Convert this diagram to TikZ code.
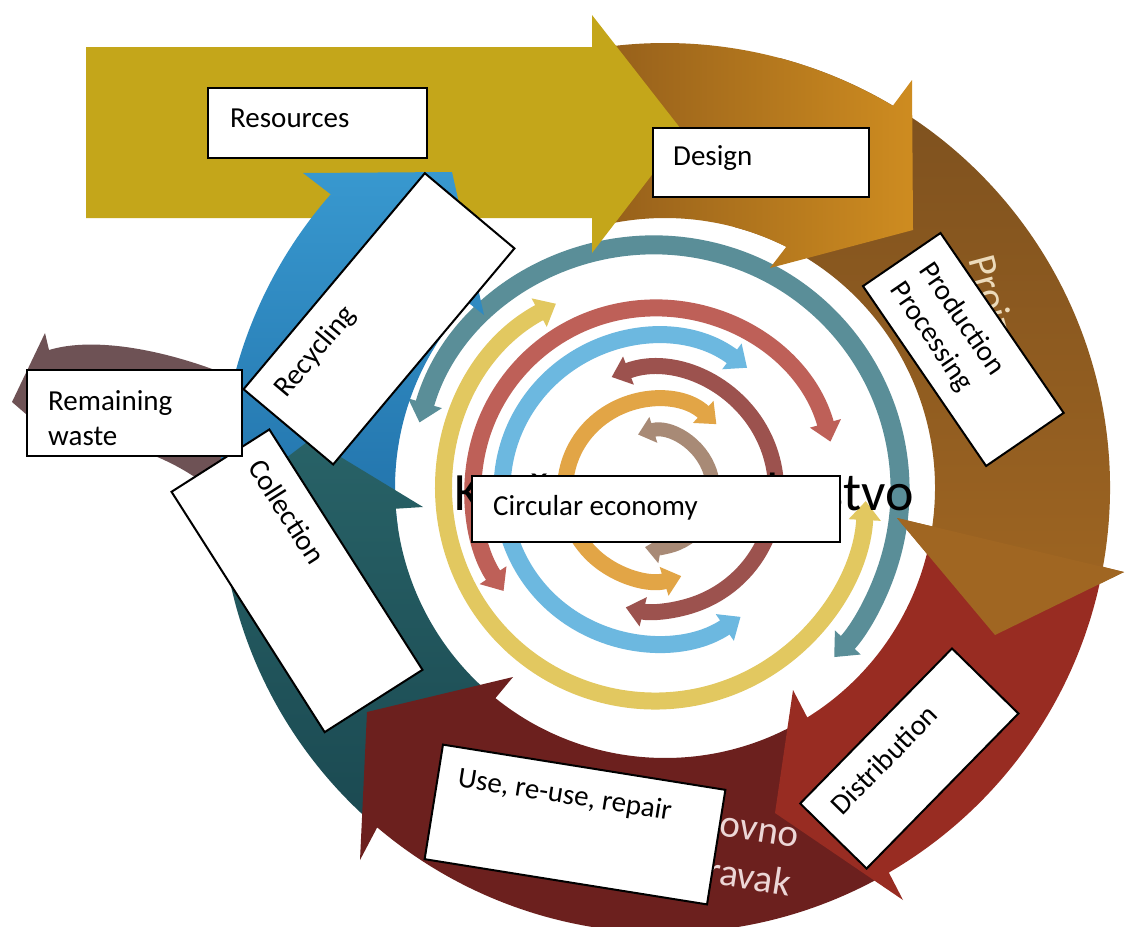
\documentclass[tikz,border=0pt]{standalone}
\usepackage{fontspec}
\setmainfont{Carlito}
\usetikzlibrary{calc,arrows.meta}

\definecolor{resyellow}{RGB}{196,166,26}
\definecolor{designdark}{RGB}{140,88,26}
\definecolor{designlight}{RGB}{206,140,32}
\definecolor{prodtop}{RGB}{124,80,30}
\definecolor{prodbottom}{RGB}{160,102,34}
\definecolor{distred}{RGB}{152,44,34}
\definecolor{usemaroon}{RGB}{108,32,30}
\definecolor{colltop}{RGB}{40,98,103}
\definecolor{collbottom}{RGB}{27,74,82}
\definecolor{recytop}{RGB}{56,152,207}
\definecolor{recybottom}{RGB}{32,112,168}
\definecolor{wastemauve}{RGB}{110,82,85}
\definecolor{ringteal}{RGB}{90,142,152}
\definecolor{ringyellow}{RGB}{226,200,96}
\definecolor{ringsalmon}{RGB}{190,96,88}
\definecolor{ringblue}{RGB}{108,184,224}
\definecolor{ringmaroon}{RGB}{156,82,78}
\definecolor{ringorange}{RGB}{226,165,70}
\definecolor{ringtaupe}{RGB}{168,138,118}
\definecolor{bandtext}{RGB}{236,218,186}
\definecolor{usetext}{RGB}{236,214,214}

% curved block arrow on the outer ring:
% #1 start angle, #2 outer base angle, #3 outer head corner, #4 tip,
% #5 inner head corner, #6 inner base angle
\newcommand{\ringarrow}[6]{($(O)+(#1:445)$) arc[start angle=#1, end angle=#2, radius=445] -- #3 -- #4 -- #5 -- ($(O)+(#6:270)$) arc[start angle=#6, end angle=#1, radius=270] -- cycle}

\begin{document}
\begin{tikzpicture}[x=1pt,y=-1pt,
  labelbox/.style={draw=black, line width=2pt, fill=white, inner sep=0pt, transform shape},
  boxtext/.style={font=\fontsize{29}{35}\selectfont, text=black, inner sep=0pt, anchor=base west, transform shape}]
\useasboundingbox (0,0) rectangle (1126,926);
\fill[white] (0,0) rectangle (1126,926);

\coordinate (O) at (665,488);
\coordinate (Ci) at (655,490);

% ---------- inner concentric arrows ----------
\draw[ringteal, line width=19pt, {Triangle[width=34pt,length=20pt]}-{Triangle[width=34pt,length=20pt]}]
  ($(Ci)+(-164:245)$) arc[start angle=-164, end angle=43, radius=245];
\draw[ringyellow, line width=17pt, {Triangle[width=31pt,length=19pt]}-{Triangle[width=31pt,length=19pt]}]
  ($(Ci)+(-118:211)$) arc[start angle=-118, end angle=-357, radius=211];
\draw[ringsalmon, line width=17pt, {Triangle[width=31pt,length=19pt]}-{Triangle[width=31pt,length=19pt]}]
  ($(Ci)+(-15.4:182)$) arc[start angle=-15.4, end angle=-213.7, radius=182];
\draw[ringblue, line width=17pt, {Triangle[width=31pt,length=19pt]}-{Triangle[width=31pt,length=19pt]}]
  ($(Ci)+(-53:153)$) arc[start angle=-53, end angle=-304, radius=153];
\draw[ringmaroon, line width=16pt, {Triangle[width=29pt,length=18pt]}-{Triangle[width=29pt,length=18pt]}]
  ($(Ci)+(-111:121)$) arc[start angle=-111, end angle=104, radius=121];
\draw[ringorange, line width=16pt, {Triangle[width=29pt,length=18pt]}-{Triangle[width=29pt,length=18pt]}]
  ($(Ci)+(-47:90)$) arc[start angle=-47, end angle=-287, radius=90];
\draw[ringtaupe, line width=14pt, {Triangle[width=26pt,length=16pt]}-{Triangle[width=26pt,length=16pt]}]
  ($(Ci)+(-107:58)$) arc[start angle=-107, end angle=100, radius=58];

\node[anchor=base west, inner sep=0pt, font=\fontsize{54}{60}\selectfont] (kruzno) at (454,510) {Kružno gospodarstvo};

% ---------- outer ring of block arrows ----------
\shade[top color=prodtop, bottom color=prodbottom]
  \ringarrow{-75}{10.2}{(1124,572)}{(995,635)}{(897,518)}{8.2};
\shade[left color=designdark, right color=designlight]
  \ringarrow{-105}{-59.2}{(912,80)}{(913,230)}{(770,268)}{-63.3};
% resources arrow
\fill[resyellow] (86,47) -- (592,47) -- (592,15) -- (684,133) -- (592,253) -- (592,218) -- (86,218) -- cycle;
% remaining waste arrow
\fill[wastemauve] (240,380) .. controls (170,350) and (95,336) .. (49,350) -- (45,333) -- (12,402)
  -- (70,452) -- (67,438) .. controls (120,440) and (170,455) .. (215,492) -- (250,470) -- cycle;
\shade[top color=recytop, bottom color=recybottom]
  \ringarrow{172}{221.3}{(303,173)}{(452,172)}{(484,315)}{223.3};
\shade[top color=colltop, bottom color=collbottom]
  \ringarrow{132.5}{176}{(205,520)}{(311,439)}{(423,507)}{175.6};
\fill[usemaroon]
  \ringarrow{61}{130.3}{(360,860)}{(367,712)}{(513,677)}{128.9};
\fill[distred]
  \ringarrow{12}{59.8}{(903,900)}{(775,813)}{(793,690)}{58.2};
% production head lies over the tail of the distribution arrow
\fill[prodbottom] (897,518) -- (1124,572) -- (995,635) -- cycle;

% ---------- words printed on the ring ----------
\node[rotate=-75, anchor=base, inner sep=0pt, text=bandtext, font=\fontsize{40}{44}\selectfont] (proizvodnja) at (993,351) {Proizvodnja};
\node[rotate=-9, anchor=base east, inner sep=0pt, text=usetext, font=\fontsize{39}{44}\selectfont] (ponovno) at (797,848) {Ponovno};
\node[rotate=-9, anchor=base east, inner sep=0pt, text=usetext, font=\fontsize{39}{44}\selectfont] (popravak) at (789,896) {popravak};

% ---------- label boxes ----------
\begin{scope}[shift={(317.5,123)}]
  \node[labelbox, minimum width=219pt, minimum height=70pt] (resources) at (0,0) {};
  \node[boxtext] (resourcestext) at (-87.5,4) {Resources};
\end{scope}
\begin{scope}[shift={(761,162.5)}]
  \node[labelbox, minimum width=216pt, minimum height=69pt] (design) at (0,0) {};
  \node[boxtext] (designtext) at (-88,2.5) {Design};
\end{scope}
\begin{scope}[shift={(963.3,349.5)}, rotate=-55.6]
  \node[labelbox, minimum width=218pt, minimum height=94pt] (production) at (0,0) {};
  \node[boxtext] (productiontext) at (-91,-8) {Production};
  \node[boxtext] (processingtext) at (-91,27) {Processing};
\end{scope}
\begin{scope}[shift={(909.3,758.5)}, rotate=45.6]
  \node[labelbox, minimum width=217pt, minimum height=93pt] (distribution) at (0,0) {};
  \node[boxtext] (distributiontext) at (-88.5,-7.5) {Distribution};
\end{scope}
\begin{scope}[shift={(575,824.5)}, rotate=-9.1]
  \node[labelbox, minimum width=286pt, minimum height=116pt] (use) at (0,0) {};
  \node[boxtext] (usetext) at (-123,-19) {Use, re-use, repair};
\end{scope}
\begin{scope}[shift={(297,580.8)}, rotate=-57.5]
  \node[labelbox, minimum width=285pt, minimum height=116pt] (collection) at (0,0) {};
  \node[boxtext] (collectiontext) at (-122.5,-19) {Collection};
\end{scope}
\begin{scope}[shift={(379,318.8)}, rotate=50]
  \node[labelbox, minimum width=282pt, minimum height=117pt] (recycling) at (0,0) {};
  \node[boxtext] (recyclingtext) at (-121,-19.5) {Recycling};
\end{scope}
\begin{scope}[shift={(134.5,413)}]
  \node[labelbox, minimum width=215pt, minimum height=86pt] (waste) at (0,0) {};
  \node[boxtext] (wastetext1) at (-86.5,-3) {Remaining};
  \node[boxtext] (wastetext2) at (-86.5,32) {waste};
\end{scope}
\begin{scope}[shift={(656,509)}]
  \node[labelbox, minimum width=368pt, minimum height=66pt] (circular) at (0,0) {};
  \node[boxtext] (circulartext) at (-163,6) {Circular economy};
\end{scope}
\end{tikzpicture}
\end{document}
